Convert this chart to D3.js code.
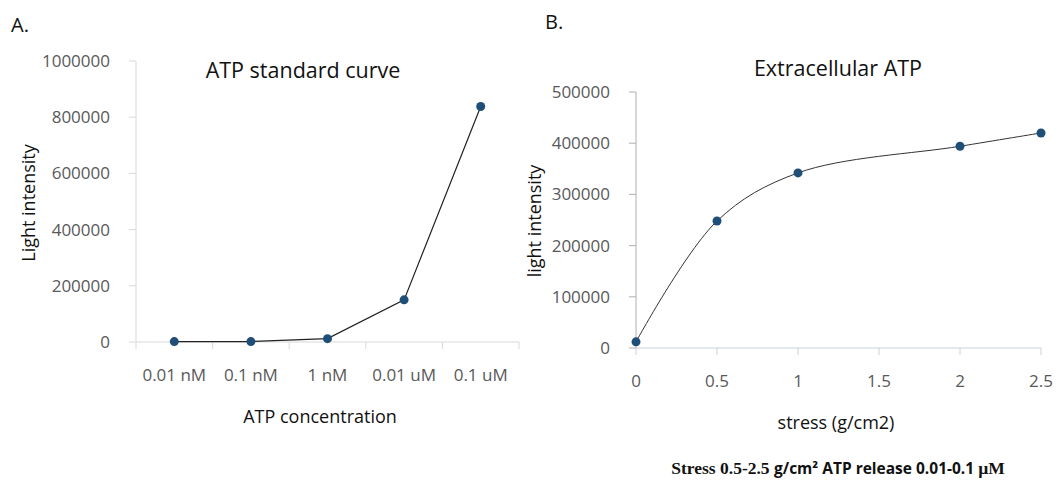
<!DOCTYPE html>
<html>
<head>
  <meta charset="utf-8">
  <script src="https://d3js.org/d3.v7.min.js"></script>
  <style>
    body { margin: 0; background: #fff; }
    svg text { font-family: 'Open Sans', sans-serif; }
  </style>
</head>
<body>
  <svg id="chart" width="1059" height="481"></svg>
  <script>
    // Panel A data
    const concLabels = ["0.01 nM", "0.1 nM", "1 nM", "0.01 uM", "0.1 uM"];
    const concValues = [1500, 1500, 12000, 150000, 838000];
    const ticksA = [0, 200000, 400000, 600000, 800000, 1000000];

    // Panel B data
    const stress = [0, 0.5, 1, 2, 2.5];
    const stressValues = [12000, 248000, 342000, 394000, 420000];
    const ticksBy = [0, 100000, 200000, 300000, 400000, 500000];
    const ticksBx = [0, 0.5, 1, 1.5, 2, 2.5];

    const svg = d3.select("#chart");
    const markerColor = "#1f4e79";
    const tickColor = "#595959";

    // ---------- Panel A ----------
    const xA = d3.scaleBand().domain(concLabels).range([136, 519]);
    const yA = d3.scaleLinear().domain([0, 1000000]).range([342, 61]);

    const gA = svg.append("g");
    // y axis
    gA.append("line").attr("x1", xA.range()[0]).attr("x2", xA.range()[0])
      .attr("y1", yA(0)).attr("y2", yA(1000000))
      .attr("stroke", "#d9d9d9");
    gA.selectAll(".ytick").data(ticksA).join("line")
      .attr("x1", xA.range()[0] - 7).attr("x2", xA.range()[0])
      .attr("y1", d => yA(d)).attr("y2", d => yA(d))
      .attr("stroke", "#d9d9d9");
    gA.selectAll(".ylab").data(ticksA).join("text")
      .attr("x", 110).attr("y", d => yA(d) + 6)
      .attr("text-anchor", "end").attr("font-size", 17).attr("fill", tickColor)
      .text(d => d);
    // x axis
    gA.append("line").attr("x1", xA.range()[0]).attr("x2", xA.range()[1])
      .attr("y1", yA(0)).attr("y2", yA(0)).attr("stroke", "#d9d9d9");
    const bounds = concLabels.map(d => xA(d)).concat([xA.range()[1]]);
    gA.selectAll(".xtick").data(bounds).join("line")
      .attr("x1", d => d).attr("x2", d => d)
      .attr("y1", yA(0)).attr("y2", yA(0) + 7).attr("stroke", "#d9d9d9");
    gA.selectAll(".xlab").data(concLabels).join("text")
      .attr("x", d => xA(d) + xA.bandwidth() / 2).attr("y", 381)
      .attr("text-anchor", "middle").attr("font-size", 17).attr("fill", tickColor)
      .text(d => d);

    const lineA = d3.line()
      .x((d, i) => xA(concLabels[i]) + xA.bandwidth() / 2)
      .y(d => yA(d));
    gA.append("path").datum(concValues).attr("d", lineA)
      .attr("fill", "none").attr("stroke", "#222").attr("stroke-width", 1.2);
    gA.selectAll(".pt").data(concValues).join("circle")
      .attr("cx", (d, i) => xA(concLabels[i]) + xA.bandwidth() / 2)
      .attr("cy", d => yA(d)).attr("r", 4.5).attr("fill", markerColor);

    gA.append("text").attr("x", 11).attr("y", 32).attr("font-size", 20).attr("fill", "#111").text("A.");
    gA.append("text").attr("x", 303).attr("y", 78).attr("text-anchor", "middle")
      .attr("font-size", 21.5).attr("fill", "#111").text("ATP standard curve");
    gA.append("text").attr("x", 320).attr("y", 423).attr("text-anchor", "middle")
      .attr("font-size", 18).attr("fill", "#111").text("ATP concentration");
    gA.append("text").attr("transform", "translate(35,203) rotate(-90)")
      .attr("text-anchor", "middle").attr("font-size", 18).attr("fill", "#111")
      .text("Light intensity");

    // ---------- Panel B ----------
    const xB = d3.scaleLinear().domain([0, 2.5]).range([636, 1041]);
    const yB = d3.scaleLinear().domain([0, 500000]).range([348, 92]);

    const gB = svg.append("g");
    gB.append("line").attr("x1", xB(0)).attr("x2", xB(0))
      .attr("y1", yB(0)).attr("y2", yB(500000)).attr("stroke", "#b0b0b0");
    gB.selectAll(".ytick").data(ticksBy).join("line")
      .attr("x1", xB(0) - 7).attr("x2", xB(0))
      .attr("y1", d => yB(d)).attr("y2", d => yB(d)).attr("stroke", "#b0b0b0");
    gB.selectAll(".ylab").data(ticksBy).join("text")
      .attr("x", 610).attr("y", d => yB(d) + 6)
      .attr("text-anchor", "end").attr("font-size", 17).attr("fill", tickColor)
      .text(d => d);
    gB.append("line").attr("x1", xB(0)).attr("x2", xB(2.5))
      .attr("y1", yB(0)).attr("y2", yB(0)).attr("stroke", "#c8d0e0");
    gB.selectAll(".xtick").data(ticksBx).join("line")
      .attr("x1", d => xB(d)).attr("x2", d => xB(d))
      .attr("y1", yB(0)).attr("y2", yB(0) + 7).attr("stroke", "#d0d0d0");
    gB.selectAll(".xlab").data(ticksBx).join("text")
      .attr("x", d => xB(d)).attr("y", 387)
      .attr("text-anchor", "middle").attr("font-size", 17).attr("fill", tickColor)
      .text(d => d);

    const lineB = d3.line()
      .x((d, i) => xB(stress[i]))
      .y(d => yB(d))
      .curve(d3.curveCatmullRom.alpha(0.5));
    gB.append("path").datum(stressValues).attr("d", lineB)
      .attr("fill", "none").attr("stroke", "#333").attr("stroke-width", 1);
    gB.selectAll(".pt").data(stressValues).join("circle")
      .attr("cx", (d, i) => xB(stress[i])).attr("cy", d => yB(d))
      .attr("r", 4.5).attr("fill", markerColor);

    gB.append("text").attr("x", 545).attr("y", 29).attr("font-size", 20).attr("fill", "#111").text("B.");
    gB.append("text").attr("x", 838).attr("y", 76).attr("text-anchor", "middle")
      .attr("font-size", 21.5).attr("fill", "#111").text("Extracellular ATP");
    gB.append("text").attr("x", 836).attr("y", 429).attr("text-anchor", "middle")
      .attr("font-size", 18).attr("fill", "#111").text("stress (g/cm2)");
    gB.append("text").attr("transform", "translate(541,221) rotate(-90)")
      .attr("text-anchor", "middle").attr("font-size", 18).attr("fill", "#111")
      .text("light intensity");

    // caption
    const cap = svg.append("text").attr("x", 838).attr("y", 474)
      .attr("text-anchor", "middle").attr("font-size", 17.5).attr("font-weight", "bold")
      .attr("fill", "#111");
    cap.append("tspan").style("font-family", "'Liberation Serif', serif").text("Stress 0.5-2.5 ");
    cap.append("tspan").style("font-family", "'Open Sans', sans-serif").attr("font-size", 15.5)
      .text("g/cm\u00B2 ATP release 0.01-0.1 ");
    cap.append("tspan").style("font-family", "'Liberation Serif', serif").text("\u00B5M");
  </script>
</body>
</html>
